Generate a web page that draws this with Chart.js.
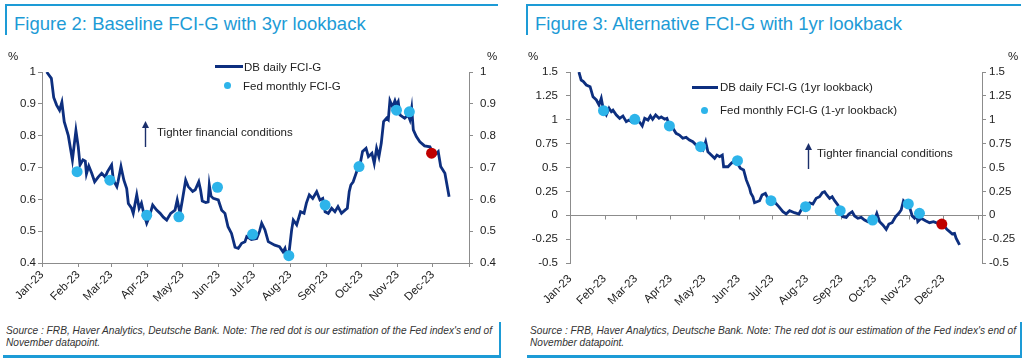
<!DOCTYPE html>
<html>
<head>
<meta charset="utf-8">
<script src="https://cdn.jsdelivr.net/npm/chart.js@4/dist/chart.umd.min.js"></script>
<style>
  body { margin: 0; background: #fff; width: 1026px; height: 363px; position: relative; overflow: hidden;
         font-family: 'Liberation Sans', Arial, sans-serif; color: #222; }
  .abs { position: absolute; }
  .title { position: absolute; top: 4px; height: 31px; border-top: 2px solid #1d9bd6; border-left: 2px solid #1d9bd6;
           box-sizing: border-box; color: #1d9bd6; font-size: 18.5px; padding: 7px 0 0 7px; white-space: nowrap; }
  .source { position: absolute; top: 322px; height: 36px; border-right: 2px solid #1d9bd6; border-bottom: 3px solid #1d9bd6;
            box-sizing: border-box; font-family: 'Liberation Sans', Arial, sans-serif;
            font-style: italic; font-size: 10.5px; line-height: 12px; color: #333; padding: 2px 0 0 3px; white-space: nowrap; }
  .source span { display: inline-block; transform-origin: 0 0; }
  .lbl { position: absolute; font-size: 11.5px; white-space: nowrap; transform: translateY(-50%); }
  canvas { position: absolute; }
</style>
</head>
<body>
<div class="title" style="left:5px;width:493px;">Figure 2: Baseline FCI-G with 3yr lookback</div>
<div class="title" style="left:526px;width:495px;">Figure 3: Alternative FCI-G with 1yr lookback</div>

<canvas id="fig2" width="513" height="275" style="left:0;top:40px;"></canvas>
<canvas id="fig3" width="513" height="275" style="left:513px;top:40px;"></canvas>

<!-- units -->
<div class="lbl" style="left:8px;top:56px;">%</div>
<div class="lbl" style="left:487px;top:56px;">%</div>
<div class="lbl" style="left:528px;top:56px;">%</div>
<div class="lbl" style="left:1008px;top:56px;">%</div>

<!-- legend fig 2 -->
<div class="abs" style="left:215px;top:65px;width:28px;height:3px;background:#0d2f7f;"></div>
<div class="lbl" style="left:244px;top:67px;">DB daily FCI-G</div>
<div class="abs" style="left:224px;top:82px;width:7px;height:7px;border-radius:50%;background:#2db4ea;"></div>
<div class="lbl" style="left:243px;top:86px;">Fed monthly FCI-G</div>
<svg class="abs" style="left:141px;top:121px;" width="9" height="27">
  <polygon points="4.5,0 1,7 8,7" fill="#1b2f6b"/>
  <line x1="4.5" y1="6" x2="4.5" y2="26" stroke="#1b2f6b" stroke-width="1.4"/>
</svg>
<div class="lbl" style="left:157px;top:132px;">Tighter financial conditions</div>

<!-- legend fig 3 -->
<div class="abs" style="left:692px;top:86px;width:26px;height:3px;background:#0d2f7f;"></div>
<div class="lbl" style="left:720px;top:87px;">DB daily FCI-G (1yr lookback)</div>
<div class="abs" style="left:701px;top:107px;width:7px;height:7px;border-radius:50%;background:#2db4ea;"></div>
<div class="lbl" style="left:720px;top:110px;">Fed monthly FCI-G (1-yr lookback)</div>
<svg class="abs" style="left:804px;top:143px;" width="9" height="27">
  <polygon points="4.5,0 1,7 8,7" fill="#1b2f6b"/>
  <line x1="4.5" y1="6" x2="4.5" y2="26" stroke="#1b2f6b" stroke-width="1.4"/>
</svg>
<div class="lbl" style="left:817px;top:153px;">Tighter financial conditions</div>

<div class="source" style="left:3px;width:498px;"><span>Source : FRB, Haver Analytics, Deutsche Bank. Note: The red dot is our estimation of the Fed index's end of<br>November datapoint.</span></div>
<div class="source" style="left:527px;width:495px;"><span>Source : FRB, Haver Analytics, Deutsche Bank. Note: The red dot is our estimation of the Fed index's end of<br>November datapoint.</span></div>

<script>
// x axis: day of year 2023 (0 = 1 Jan)
var monthStarts = [0, 31, 59, 90, 120, 151, 181, 212, 243, 273, 304, 334, 365];
var monthLabels = ['Jan-23', 'Feb-23', 'Mar-23', 'Apr-23', 'May-23', 'Jun-23', 'Jul-23', 'Aug-23', 'Sep-23', 'Oct-23', 'Nov-23', 'Dec-23', ''];

// Figure 2 - DB daily FCI-G (3yr lookback)
var fig2Days = [4, 8, 10, 12.5, 15, 17, 19, 22.5, 26, 29, 31, 32.5, 35, 37, 38, 40, 42.5, 45, 48, 51, 54, 56, 59.5, 61, 64, 65, 67.5, 70, 72.4,
  73.8, 76.6, 78, 81, 83, 85, 87, 89.5, 91.7, 94.6, 98, 101, 103.7, 106.6, 110, 113.7, 115.6, 118, 120, 122.8, 125, 128.8, 131, 134, 135.5,
  137, 140, 142, 143, 144.5, 146.4, 150.7, 153.6, 156.4, 159, 162, 165, 167.8, 170.7, 173.5, 175, 179, 183.5, 186, 187.8, 190.6, 193.4,
  199, 203, 206, 207.7, 209, 211.4, 213.4, 214.8, 217.7, 221, 224, 226, 228.5, 231.4, 234.8, 237.6, 240, 242, 244.7, 247.6, 250.4, 253,
  256, 259, 261, 262.6, 264, 266, 269, 271.8, 274, 277, 279, 282, 284, 286, 288, 290, 292, 294.6, 296, 297.4, 299.7, 301.7, 303, 304.5,
  306, 308, 310, 313, 314.5, 316, 317.4, 320, 323, 327, 331.6, 334, 336, 338.7, 340.8, 344.4, 348];
var fig2Daily = [1.0, 0.98, 0.92, 0.896, 0.88, 0.905, 0.844, 0.80, 0.724, 0.816, 0.765, 0.708, 0.724, 0.72, 0.68, 0.705, 0.682, 0.655, 0.67, 0.682, 0.67, 0.687, 0.708, 0.66, 0.64, 0.655, 0.703, 0.66, 0.634,
  0.587, 0.572, 0.556, 0.614, 0.572, 0.588, 0.556, 0.525, 0.545, 0.582, 0.566, 0.556, 0.544, 0.535, 0.556, 0.566, 0.598, 0.556, 0.598, 0.66, 0.64, 0.625, 0.63, 0.655, 0.63,
  0.595, 0.59, 0.592, 0.645, 0.61, 0.603, 0.598, 0.566, 0.556, 0.514, 0.493, 0.45, 0.446, 0.462, 0.467, 0.483, 0.474, 0.477, 0.50, 0.525, 0.504, 0.467,
  0.456, 0.451, 0.435, 0.446, 0.425, 0.44, 0.504, 0.535, 0.52, 0.561, 0.556, 0.588, 0.614, 0.603, 0.624, 0.598, 0.603, 0.561, 0.556, 0.572, 0.561, 0.577,
  0.556, 0.566, 0.572, 0.624, 0.645, 0.655, 0.687, 0.708, 0.75, 0.76, 0.734, 0.745, 0.713, 0.76, 0.734, 0.776, 0.844, 0.855, 0.85, 0.91, 0.89, 0.91, 0.896, 0.907,
  0.865, 0.86, 0.855, 0.865, 0.85, 0.886, 0.818, 0.797, 0.781, 0.768, 0.765, 0.745, 0.74, 0.75, 0.703, 0.682, 0.608];
var fig2FedDays = [30, 58, 89.5, 117, 150, 180, 211, 242, 271, 303, 314];
var fig2Fed = [0.687, 0.66, 0.55, 0.545, 0.638, 0.49, 0.423, 0.582, 0.703, 0.88, 0.875];
var fig2EstDay = [333];
var fig2Est = [0.745];

// Figure 3 - DB daily FCI-G (1yr lookback)
var fig3Days = [8, 10, 12, 14.6, 18, 20.6, 23.6, 26, 28, 30, 32.5, 35, 37, 38.5, 41.5, 44.5, 47.4, 50.4, 52.8, 55, 58, 61, 64.7, 66.9, 69.8,
  72, 74, 76.7, 79.7, 81.7, 84.8, 86.8, 89.2, 92.2, 95, 98, 101, 104, 107, 110, 113, 116, 119, 121.5, 123.5, 126.5, 129.5, 131.6, 134,
  136.4, 137.6, 141.5, 144.4, 147.4, 150.4, 152.5, 155.5, 157.9, 160.9, 162, 163.8, 165.3, 169.8, 172, 175, 177.5, 183, 187, 190.7, 193.6,
  196.7, 201, 205, 207, 211, 214.6, 217.5, 220.5, 223.5, 226, 228, 230, 232.5, 234.8, 237, 240, 242, 244.4, 247.4, 249.8, 252.7, 254.9,
  257.8, 260.8, 263.8, 266.8, 269.7, 272.8, 274.8, 277.3, 280.2, 283.2, 285.6, 288.5, 291.6, 294.5, 296.6, 298.7, 301, 304, 306.5, 308.6,
  310.7, 311.5, 314.5, 318.4, 322, 325.6, 329.5, 334, 337.5, 340, 342.3, 344.4, 345.8, 348.9];
var fig3Daily = [1.5, 1.416, 1.40, 1.364, 1.346, 1.24, 1.207, 1.155, 1.225, 1.10, 1.05, 1.12, 1.084, 1.10, 1.05, 1.015, 1.04, 0.98, 0.997, 0.98, 1.015, 0.997, 0.935, 1.015, 0.997,
  1.04, 1.005, 1.05, 1.015, 1.03, 1.005, 1.015, 0.935, 0.91, 0.858, 0.84, 0.806, 0.816, 0.788, 0.77, 0.735, 0.718, 0.683, 0.77, 0.665, 0.63, 0.596, 0.63, 0.613,
  0.63, 0.508, 0.508, 0.544, 0.571, 0.537, 0.492, 0.474, 0.37, 0.282, 0.23, 0.194, 0.131, 0.152, 0.212, 0.23, 0.17, 0.142, 0.09, 0.037, 0.013,
  0.048, 0.027, 0.013, 0.055, 0.09, 0.13, 0.118, 0.177, 0.194, 0.236, 0.247, 0.212, 0.177, 0.194, 0.152, 0.107, 0.02, -0.015, -0.022, 0.013, 0.037, -0.008,
  -0.032, -0.022, -0.05, -0.067, -0.057, -0.043, 0.02, -0.067, -0.102, -0.147, -0.092, -0.078, -0.015, 0.02, 0.055, 0.152, 0.125, 0.09, -0.008, -0.032,
  -0.008, -0.067, -0.032, -0.057, -0.078, -0.067, -0.085, -0.092, -0.147, -0.172, -0.196, -0.19, -0.24, -0.31];
var fig3FedDays = [30, 58, 89, 117, 150, 180, 211, 242, 271, 303, 313];
var fig3Fed = [1.095, 1.005, 0.935, 0.718, 0.571, 0.152, 0.09, 0.048, -0.05, 0.118, 0.02];
var fig3EstDay = [333];
var fig3Est = [-0.092];

// squeeze the source note so its first line ends at "end of" like the original
document.querySelectorAll('.source span').forEach(function (s) {
  var w = s.getBoundingClientRect().width;
  s.style.transform = 'scaleX(' + (486 / w) + ')';
});

Chart.defaults.font.family = "'Liberation Sans', Arial, sans-serif";
Chart.defaults.font.size = 11.5;
Chart.defaults.color = '#222';

function pts(xs, ys) {
  return xs.map(function (x, i) { return { x: x, y: ys[i] }; });
}

function fmt(v) { return String(Math.round(v * 100) / 100); }

// zero line with month tick marks (fig 3)
var zeroAxis = {
  id: 'zeroAxis',
  beforeDatasetsDraw: function (chart) {
    if (!chart.options.plugins.zeroAxis.on) return;
    var c = chart.ctx, xs = chart.scales.x, y0 = Math.round(chart.scales.y.getPixelForValue(0)) + 0.5;
    c.save();
    c.strokeStyle = '#8c8c8c';
    c.lineWidth = 1;
    c.beginPath();
    c.moveTo(chart.chartArea.left, y0);
    c.lineTo(chart.chartArea.right, y0);
    monthStarts.forEach(function (m) {
      var px = Math.round(xs.getPixelForValue(m)) + 0.5;
      c.moveTo(px, y0);
      c.lineTo(px, y0 + 4);
    });
    c.stroke();
    c.restore();
  }
};

function makeChart(id, days, daily, fedDays, fed, estDay, est, yMin, yMax, step, opts) {
  return new Chart(document.getElementById(id), {
    type: 'line',
    data: {
      datasets: [{
        type: 'scatter',
        data: pts(estDay, est),
        backgroundColor: '#c00000',
        borderWidth: 0,
        pointRadius: 5.5,
        order: 0
      }, {
        type: 'scatter',
        data: pts(fedDays, fed),
        backgroundColor: '#2db4ea',
        borderWidth: 0,
        pointRadius: 5.5,
        order: 1
      }, {
        data: pts(days, daily),
        borderColor: '#0d2f7f',
        borderWidth: 2.8,
        pointRadius: 0,
        tension: 0,
        fill: false,
        order: 2
      }]
    },
    options: {
      responsive: false,
      animation: false,
      layout: { padding: { top: 32, left: 0, right: 0, bottom: 0 } },
      plugins: { legend: { display: false }, tooltip: { enabled: false }, zeroAxis: { on: opts.zero } },
      scales: {
        x: {
          type: 'linear', min: 0, max: opts.xMax,
          afterBuildTicks: function (s) { s.ticks = monthStarts.map(function (v) { return { value: v }; }); },
          ticks: {
            autoSkip: false, minRotation: 45, maxRotation: 45, padding: opts.xPad,
            callback: function (v, i) { return monthLabels[i]; }
          },
          grid: { drawOnChartArea: false, display: !opts.zero, drawTicks: !opts.zero, tickLength: 4, color: '#8c8c8c' },
          border: { display: !opts.zero, color: '#8c8c8c' },
          afterFit: function (s) { s.height = 52; }
        },
        y: {
          position: 'left', min: yMin, max: yMax,
          ticks: { stepSize: step, padding: opts.yPad, callback: fmt },
          grid: { drawOnChartArea: false, tickLength: 4, color: '#8c8c8c' },
          border: { color: '#8c8c8c' },
          afterFit: function (s) { s.width = opts.leftW; }
        },
        y2: {
          position: 'right', min: yMin, max: yMax,
          ticks: { stepSize: step, padding: opts.y2Pad, callback: fmt },
          grid: { drawOnChartArea: false, tickLength: 4, color: '#8c8c8c' },
          border: { color: '#8c8c8c' },
          afterFit: function (s) { s.width = 44; }
        }
      }
    },
    plugins: [zeroAxis]
  });
}

makeChart('fig2', fig2Days, fig2Daily, fig2FedDays, fig2Fed, fig2EstDay, fig2Est, 0.4, 1, 0.1,
  { zero: false, xMax: 365, xPad: 1, yPad: 2, y2Pad: 7, leftW: 42 });
makeChart('fig3', fig3Days, fig3Daily, fig3FedDays, fig3Fed, fig3EstDay, fig3Est, -0.5, 1.5, 0.25,
  { zero: true, xMax: 369, xPad: 9, yPad: 8, y2Pad: 3, leftW: 57 });
</script>
</body>
</html>
